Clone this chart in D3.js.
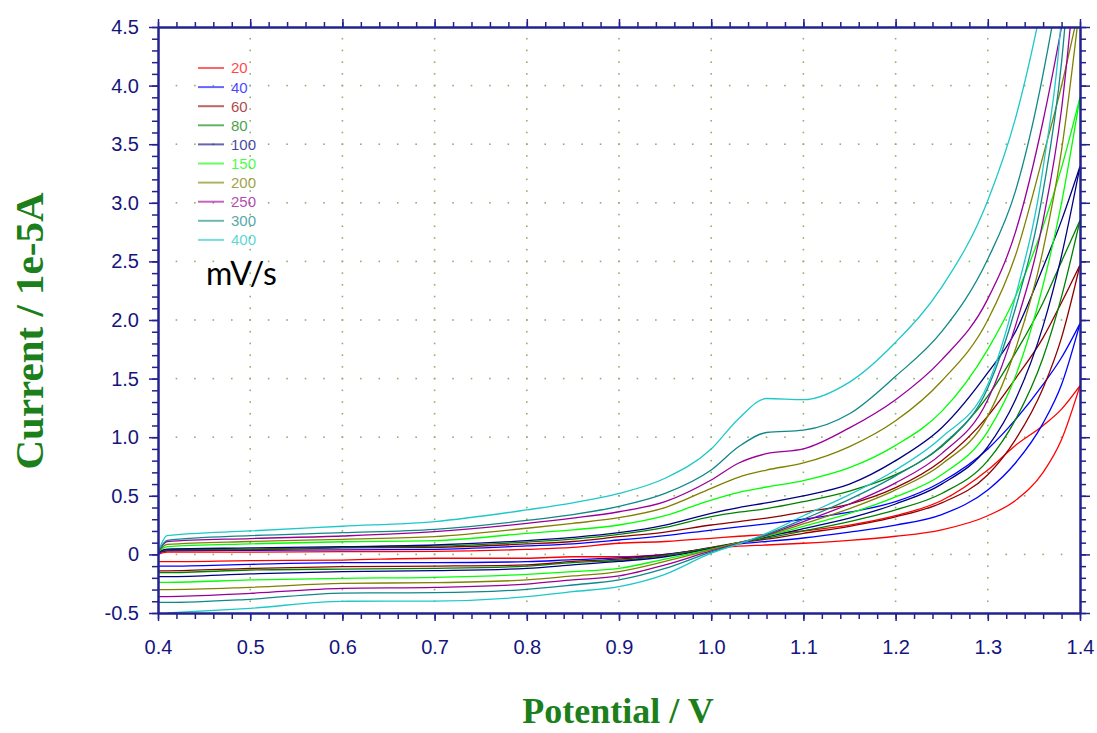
<!DOCTYPE html>
<html>
<head>
<meta charset="utf-8">
<script src="https://cdn.jsdelivr.net/npm/d3@7"></script>
<style>
  html, body { margin: 0; padding: 0; background: #ffffff; }
  svg { display: block; }
</style>
</head>
<body>
<svg id="chart" width="1097" height="733"></svg>
<script>
// Potential grid (V) shared by every branch
const potential = [0.40, 0.41, 0.50, 0.60, 0.70, 0.80, 0.85, 0.90, 0.95, 1.00, 1.03, 1.06, 1.10, 1.15, 1.20, 1.25, 1.30, 1.33, 1.36, 1.38, 1.40];

// Scan rates (mV/s)
const scanRates = [20, 40, 60, 80, 100, 150, 200, 250, 300, 400];

// Anodic (forward) sweep currents, 1e-5 A
const fwd20  = [0.00, 0.020, 0.020, 0.023, 0.025, 0.043, 0.060, 0.095, 0.11, 0.137, 0.155, 0.17, 0.20, 0.25, 0.33, 0.46, 0.72, 0.93, 1.10, 1.24, 1.44];
const fwd40  = [0.01, 0.030, 0.035, 0.038, 0.043, 0.072, 0.090, 0.123, 0.16, 0.208, 0.235, 0.26, 0.30, 0.36, 0.45, 0.62, 0.90, 1.15, 1.45, 1.68, 1.97];
const fwd60  = [0.02, 0.035, 0.040, 0.055, 0.060, 0.089, 0.110, 0.151, 0.19, 0.251, 0.28, 0.31, 0.36, 0.43, 0.57, 0.80, 1.18, 1.50, 1.85, 2.15, 2.47];
const fwd80  = [0.02, 0.040, 0.045, 0.060, 0.070, 0.105, 0.130, 0.170, 0.23, 0.322, 0.36, 0.39, 0.45, 0.54, 0.68, 0.92, 1.35, 1.72, 2.15, 2.50, 2.85];
const fwd100 = [0.02, 0.045, 0.055, 0.066, 0.080, 0.117, 0.145, 0.185, 0.25, 0.351, 0.40, 0.44, 0.50, 0.60, 0.80, 1.08, 1.55, 1.90, 2.45, 2.85, 3.31];
const fwd150 = [0.02, 0.066, 0.090, 0.108, 0.117, 0.180, 0.210, 0.251, 0.33, 0.464, 0.53, 0.575, 0.63, 0.74, 0.93, 1.22, 1.75, 2.20, 2.80, 3.30, 3.90];
const fwd200 = [0.02, 0.085, 0.110, 0.129, 0.151, 0.223, 0.265, 0.313, 0.40, 0.564, 0.66, 0.72, 0.78, 0.92, 1.14, 1.48, 2.00, 2.55, 3.40, 4.00, 4.70];
const fwd250 = [0.02, 0.110, 0.135, 0.157, 0.194, 0.265, 0.310, 0.364, 0.45, 0.635, 0.78, 0.86, 0.90, 1.08, 1.32, 1.66, 2.18, 2.75, 3.70, 4.50, 5.40];
const fwd300 = [0.02, 0.120, 0.160, 0.185, 0.214, 0.290, 0.340, 0.410, 0.52, 0.720, 0.92, 1.04, 1.06, 1.20, 1.52, 1.90, 2.52, 3.10, 4.10, 5.00, 6.20];
const fwd400 = [0.02, 0.160, 0.200, 0.240, 0.280, 0.380, 0.440, 0.520, 0.65, 0.900, 1.16, 1.33, 1.32, 1.47, 1.81, 2.28, 3.02, 3.72, 4.75, 5.60, 7.50];

// Cathodic (return) sweep currents, 1e-5 A, listed on the same potential grid
const rev20  = [-0.062, -0.062, -0.053, -0.048, -0.033, -0.033, -0.020, -0.020,  0.000, 0.050, 0.070, 0.080, 0.095, 0.12, 0.155, 0.21, 0.33, 0.46, 0.70, 0.98, 1.44];
const rev40  = [-0.100, -0.100, -0.085, -0.070, -0.070, -0.062, -0.045, -0.030,  0.000, 0.055, 0.090, 0.110, 0.140, 0.19, 0.25,  0.34, 0.55, 0.78, 1.12, 1.45, 1.97];
const rev60  = [-0.140, -0.140, -0.119, -0.105, -0.100, -0.090, -0.060, -0.040, -0.005, 0.060, 0.100, 0.130, 0.180, 0.24, 0.32,  0.44, 0.68, 0.98, 1.42, 1.85, 2.47];
const rev80  = [-0.156, -0.156, -0.133, -0.125, -0.119, -0.100, -0.070, -0.050, -0.010, 0.055, 0.100, 0.140, 0.200, 0.28, 0.38,  0.52, 0.80, 1.15, 1.68, 2.20, 2.85];
const rev100 = [-0.190, -0.190, -0.167, -0.147, -0.139, -0.119, -0.090, -0.060, -0.020, 0.050, 0.100, 0.150, 0.220, 0.31, 0.43,  0.60, 0.92, 1.32, 1.95, 2.55, 3.31];
const rev150 = [-0.238, -0.238, -0.218, -0.204, -0.196, -0.170, -0.147, -0.119, -0.040, 0.045, 0.100, 0.155, 0.240, 0.35, 0.49,  0.68, 1.05, 1.52, 2.30, 3.00, 3.90];
const rev200 = [-0.300, -0.300, -0.281, -0.247, -0.241, -0.218, -0.184, -0.147, -0.060, 0.040, 0.100, 0.160, 0.260, 0.39, 0.55,  0.77, 1.18, 1.75, 2.60, 3.45, 4.70];
const rev250 = [-0.360, -0.360, -0.332, -0.290, -0.281, -0.253, -0.218, -0.184, -0.090, 0.030, 0.095, 0.165, 0.280, 0.43, 0.61,  0.86, 1.32, 1.95, 2.85, 3.80, 5.40];
const rev300 = [-0.410, -0.410, -0.383, -0.330, -0.327, -0.298, -0.261, -0.218, -0.120, 0.020, 0.090, 0.170, 0.300, 0.47, 0.67,  0.93, 1.42, 2.10, 3.10, 4.20, 6.20];
const rev400 = [  null, -0.500, -0.460, -0.400, -0.398, -0.361, -0.318, -0.275, -0.170, 0.010, 0.090, 0.180, 0.330, 0.51, 0.72,  1.00, 1.45, 2.20, 3.30, 4.60, 7.50];

const forwardSweeps = [fwd20, fwd40, fwd60, fwd80, fwd100, fwd150, fwd200, fwd250, fwd300, fwd400];
const returnSweeps  = [rev20, rev40, rev60, rev80, rev100, rev150, rev200, rev250, rev300, rev400];

// Line colours per scan rate
const lineColors = ["#ff0000", "#0000ff", "#900000", "#008000", "#000080", "#00ff00", "#808000", "#990099", "#108888", "#1ec8c8"];

// Axis ticks
const xMajorTicks = [0.4, 0.5, 0.6, 0.7, 0.8, 0.9, 1.0, 1.1, 1.2, 1.3, 1.4];
const xTickLabels = ["0.4", "0.5", "0.6", "0.7", "0.8", "0.9", "1.0", "1.1", "1.2", "1.3", "1.4"];
const yMajorTicks = [-0.5, 0, 0.5, 1.0, 1.5, 2.0, 2.5, 3.0, 3.5, 4.0, 4.5];
const yTickLabels = ["-0.5", "0", "0.5", "1.0", "1.5", "2.0", "2.5", "3.0", "3.5", "4.0", "4.5"];

// ---------------------------------------------------------------
const svg = d3.select("#chart");
const plotLeft = 158, plotRight = 1080, plotTop = 27, plotBottom = 613;

const x = d3.scaleLinear().domain([0.4, 1.4]).range([plotLeft, plotRight]);
const y = d3.scaleLinear().domain([-0.5, 4.5]).range([plotBottom, plotTop]);

const axisColor = "#22228f";
const labelColor = "#15157d";
const titleColor = "#1b7f1b";
const gridColor = "#93b06a";

// minor tick positions
const xMinor = d3.range(0, 51).map(i => +(0.4 + i * 0.02).toFixed(2));
const yMinor = d3.range(0, 51).map(i => +(-0.5 + i * 0.1).toFixed(2));

// dotted grid: vertical guides at major x, dots at every minor y step
const grid = svg.append("g");
xMajorTicks.slice(1, -1).forEach(xv => {
  yMinor.slice(1, -1).forEach(yv => {
    grid.append("rect").attr("x", x(xv) - 0.8).attr("y", y(yv) - 0.8)
      .attr("width", 1.6).attr("height", 1.6).attr("fill", gridColor);
  });
});
// horizontal guides at major y, dots at every minor x step
yMajorTicks.slice(1, -1).forEach(yv => {
  xMinor.slice(1, -1).forEach(xv => {
    grid.append("rect").attr("x", x(xv) - 0.8).attr("y", y(yv) - 0.8)
      .attr("width", 1.6).attr("height", 1.6).attr("fill", gridColor);
  });
});

// clip region for the voltammograms
svg.append("clipPath").attr("id", "plotClip")
  .append("rect").attr("x", plotLeft).attr("y", plotTop)
  .attr("width", plotRight - plotLeft).attr("height", plotBottom - plotTop);

const line = d3.line()
  .defined(d => d[1] !== null)
  .x(d => x(d[0]))
  .y(d => y(d[1]))
  .curve(d3.curveMonotoneX);

const curves = svg.append("g").attr("clip-path", "url(#plotClip)");
scanRates.forEach((rate, i) => {
  const rev = potential.map((p, k) => [p, returnSweeps[i][k]]);
  const fwd = potential.map((p, k) => [p, forwardSweeps[i][k]]);
  curves.append("path").datum(rev)
    .attr("d", line).attr("fill", "none")
    .attr("stroke", lineColors[i]).attr("stroke-width", 1.3);
  curves.append("path").datum(fwd)
    .attr("d", line).attr("fill", "none")
    .attr("stroke", lineColors[i]).attr("stroke-width", 1.3);
});

// axes
function styleAxis(g) {
  g.selectAll("path.domain").attr("stroke", axisColor).attr("stroke-width", 2);
  g.selectAll(".tick line").attr("stroke", axisColor).attr("stroke-width", 1.5);
  g.selectAll(".tick text")
    .attr("fill", labelColor)
    .style("font-family", "'Liberation Sans', Arial, sans-serif")
    .style("font-size", "20px");
}

// left
svg.append("g").attr("transform", `translate(${plotLeft},0)`)
  .call(d3.axisLeft(y).tickValues(yMinor).tickSize(6).tickSizeOuter(0).tickFormat(""))
  .call(styleAxis);
svg.append("g").attr("transform", `translate(${plotLeft},0)`)
  .call(d3.axisLeft(y).tickValues(yMajorTicks).tickSize(9).tickSizeOuter(0).tickPadding(10)
    .tickFormat((d, i) => yTickLabels[i]))
  .call(styleAxis);
// right
svg.append("g").attr("transform", `translate(${plotRight},0)`)
  .call(d3.axisRight(y).tickValues(yMinor).tickSize(6).tickSizeOuter(0).tickFormat(""))
  .call(styleAxis);
svg.append("g").attr("transform", `translate(${plotRight},0)`)
  .call(d3.axisRight(y).tickValues(yMajorTicks).tickSize(10).tickSizeOuter(0).tickFormat(""))
  .call(styleAxis);
// bottom
svg.append("g").attr("transform", `translate(0,${plotBottom})`)
  .call(d3.axisBottom(x).tickValues(xMinor).tickSize(6).tickSizeOuter(0).tickFormat(""))
  .call(styleAxis);
svg.append("g").attr("transform", `translate(0,${plotBottom})`)
  .call(d3.axisBottom(x).tickValues(xMajorTicks).tickSize(8).tickSizeOuter(0).tickPadding(19)
    .tickFormat((d, i) => xTickLabels[i]))
  .call(styleAxis);
// top
svg.append("g").attr("transform", `translate(0,${plotTop})`)
  .call(d3.axisTop(x).tickValues(xMinor).tickSize(5).tickSizeOuter(0).tickFormat(""))
  .call(styleAxis);
svg.append("g").attr("transform", `translate(0,${plotTop})`)
  .call(d3.axisTop(x).tickValues(xMajorTicks).tickSize(8).tickSizeOuter(0).tickFormat(""))
  .call(styleAxis);

// axis titles
svg.append("text")
  .attr("x", 618).attr("y", 723)
  .attr("text-anchor", "middle")
  .attr("fill", titleColor)
  .style("font-family", "'Liberation Serif', 'Times New Roman', serif")
  .style("font-weight", "bold")
  .style("font-size", "36px")
  .text("Potential / V");

svg.append("text")
  .attr("transform", "translate(43,331) rotate(-90)")
  .attr("text-anchor", "middle")
  .attr("fill", titleColor)
  .style("font-family", "'Liberation Serif', 'Times New Roman', serif")
  .style("font-weight", "bold")
  .style("font-size", "41px")
  .text("Current / 1e-5A");

// legend
const legend = svg.append("g");
scanRates.forEach((rate, i) => {
  const ly = 68 + i * 19.1;
  legend.append("line")
    .attr("x1", 198).attr("x2", 224).attr("y1", ly).attr("y2", ly)
    .attr("stroke", lineColors[i]).attr("stroke-width", 2).attr("opacity", 0.6);
  legend.append("text")
    .attr("x", 231).attr("y", ly).attr("dy", "0.36em")
    .attr("fill", lineColors[i]).attr("opacity", 0.72)
    .style("font-family", "'Liberation Sans', Arial, sans-serif")
    .style("font-size", "15px")
    .text(rate);
});

svg.append("text")
  .attr("x", 206).attr("y", 285)
  .attr("fill", "#000000")
  .style("font-family", "Lato, 'Open Sans', sans-serif")
  .style("font-size", "32px")
  .text("mV/s");
</script>
</body>
</html>
